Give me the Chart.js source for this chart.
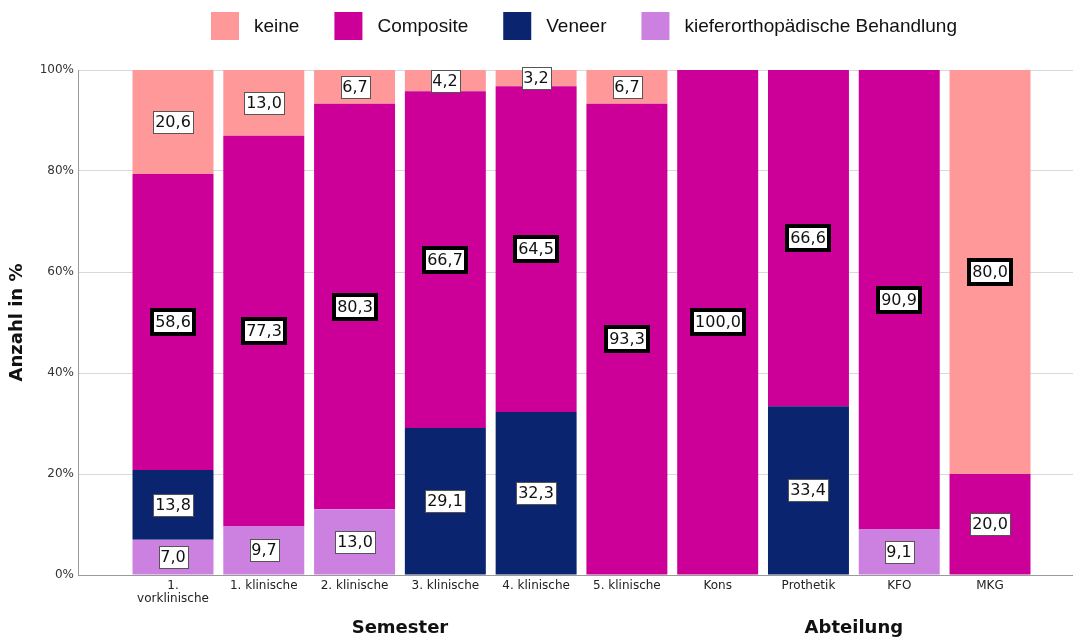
<!DOCTYPE html>
<html lang="de">
<head>
<meta charset="utf-8">
<title>Anzahl in %</title>
<script src="https://cdn.jsdelivr.net/npm/chart.js@4.4.1/dist/chart.umd.min.js"></script>
<style>
  html, body { margin: 0; padding: 0; background: #fff; }
  #wrap { width: 1073px; height: 644px; }
</style>
</head>
<body>
<div id="wrap"><canvas id="chart"></canvas></div>
<script>
// Kategorien der x-Achse
const categories = [['1.', 'vorklinische'], '1. klinische', '2. klinische', '3. klinische', '4. klinische',
    '5. klinische', 'Kons', 'Prothetik', 'KFO', 'MKG'];

// Anteile in %, von unten nach oben gestapelt
const kfoBehandlung = [7.0, 9.7, 13.0, 0, 0, 0, 0, 0, 9.1, 0];
const veneer = [13.8, 0, 0, 29.1, 32.3, 0, 0, 33.4, 0, 0];
const composite = [58.6, 77.3, 80.3, 66.7, 64.5, 93.3, 100.0, 66.6, 90.9, 20.0];
const keine = [20.6, 13.0, 6.7, 4.2, 3.2, 6.7, 0, 0, 0, 80.0];

const yTicks = [0, 20, 40, 60, 80, 100];

// Gruppentitel unter der x-Achse
const groups = [
    { title: 'Semester', from: 0, to: 5 },
    { title: 'Abteilung', from: 6, to: 9 }
];

const COLORS = {
    keine: '#ff9999',
    composite: '#cc0099',
    veneer: '#0b2470',
    kfo: '#cc80e0'
};

// Werte auf den Balken (größter Anteil je Balken mit dickem Rahmen)
const valueLabels = {
    id: 'valueLabels',
    afterDatasetsDraw(chart) {
        const ctx = chart.ctx;
        const datasets = chart.data.datasets;
        const maxima = categories.map((c, i) => Math.max(...datasets.map(d => d.data[i])));

        ctx.save();
        ctx.font = '16px "DejaVu Sans"';
        ctx.textAlign = 'center';
        ctx.textBaseline = 'middle';

        datasets.forEach((ds, di) => {
            const meta = chart.getDatasetMeta(di);
            meta.data.forEach((bar, i) => {
                const v = ds.data[i];
                if (!v) return;
                const p = bar.getProps(['x', 'y', 'base'], true);
                const text = v.toFixed(1).replace('.', ',');
                const cy = Math.round((p.y + p.base) / 2);
                const cx = Math.round(p.x);
                const tw = ctx.measureText(text).width;

                if (v === maxima[i]) {
                    const bw = Math.round(tw + 6), bh = 24;
                    ctx.fillStyle = '#fff';
                    ctx.fillRect(cx - bw / 2, cy - bh / 2, bw, bh);
                    ctx.lineWidth = 4;
                    ctx.strokeStyle = '#000';
                    ctx.strokeRect(cx - bw / 2, cy - bh / 2, bw, bh);
                } else {
                    const bw = Math.round(tw + 4), bh = 22;
                    const left = Math.round(cx - bw / 2) + 0.5, top = Math.round(cy - bh / 2) + 0.5;
                    ctx.fillStyle = '#fff';
                    ctx.fillRect(left, top, bw, bh);
                    ctx.lineWidth = 1;
                    ctx.strokeStyle = '#555';
                    ctx.strokeRect(left, top, bw, bh);
                }
                ctx.fillStyle = '#111';
                ctx.fillText(text, cx, cy + 1);
            });
        });
        ctx.restore();
    }
};

// Legende oben (Reihenfolge wie im Stapel von oben nach unten)
const topLegend = {
    id: 'topLegend',
    afterDraw(chart) {
        const ctx = chart.ctx;
        const items = chart.data.datasets.slice().reverse();
        const box = 28, gapText = 15, gapItem = 35;
        ctx.save();
        ctx.font = '19px "Liberation Sans"';
        ctx.textBaseline = 'middle';
        ctx.textAlign = 'left';
        const widths = items.map(d => box + gapText + ctx.measureText(d.label).width);
        const total = widths.reduce((a, b) => a + b, 0) + gapItem * (items.length - 1);
        const area = chart.chartArea;
        let x = Math.round((area.left + area.right) / 2 - total / 2 + 8);
        const top = 12;
        items.forEach((d, i) => {
            ctx.fillStyle = d.backgroundColor;
            ctx.fillRect(x, top, box, box);
            ctx.fillStyle = '#111';
            ctx.fillText(d.label, x + box + gapText, top + box / 2 + 1);
            x += widths[i] + gapItem;
        });
        ctx.restore();
    }
};

// Gruppentitel "Semester" / "Abteilung"
const groupTitles = {
    id: 'groupTitles',
    afterDraw(chart) {
        const ctx = chart.ctx;
        const xs = chart.scales.x;
        ctx.save();
        ctx.font = 'bold 18px "DejaVu Sans"';
        ctx.fillStyle = '#111';
        ctx.textAlign = 'center';
        ctx.textBaseline = 'middle';
        groups.forEach(g => {
            const x = (xs.getPixelForValue(g.from) + xs.getPixelForValue(g.to)) / 2;
            ctx.fillText(g.title, x, xs.bottom - 16);
        });
        ctx.restore();
    }
};

function makeDataset(label, data, color) {
    return {
        label: label,
        data: data,
        backgroundColor: color,
        borderWidth: 0,
        barPercentage: 0.892,
        categoryPercentage: 1.0
    };
}

document.addEventListener('DOMContentLoaded', function() {
    const ctx = document.getElementById('chart');

    new Chart(ctx, {
        type: 'bar',
        data: {
            labels: categories.map((c, i) => i),
            datasets: [
                makeDataset('kieferorthopädische Behandlung', kfoBehandlung, COLORS.kfo),
                makeDataset('Veneer', veneer, COLORS.veneer),
                makeDataset('Composite', composite, COLORS.composite),
                makeDataset('keine', keine, COLORS.keine)
            ]
        },
        options: {
            responsive: true,
            maintainAspectRatio: false,
            animation: false,
            layout: { padding: { top: 70, right: 0, bottom: 0, left: 0 } },
            plugins: {
                legend: { display: false },
                tooltip: { enabled: false }
            },
            scales: {
                x: {
                    type: 'linear',
                    stacked: true,
                    offset: false,
                    min: -1.0465,
                    max: 9.914,
                    grid: { display: false, drawTicks: false },
                    border: { display: true, color: '#9a9a9a' },
                    afterBuildTicks: s => { s.ticks = categories.map((c, i) => ({ value: i })); },
                    afterFit: s => { s.height = 69; },
                    ticks: {
                        autoSkip: false,
                        maxRotation: 0,
                        padding: 4,
                        color: '#222',
                        font: { family: '"DejaVu Sans"', size: 12, lineHeight: 1.1 },
                        callback: v => categories[v]
                    }
                },
                y: {
                    stacked: true,
                    min: 0,
                    max: 100,
                    grid: { color: '#d9d9d9', drawTicks: false },
                    border: { display: true, color: '#9a9a9a' },
                    afterBuildTicks: s => { s.ticks = yTicks.map(v => ({ value: v })); },
                    afterFit: s => { s.width = 78; },
                    ticks: {
                        padding: 4,
                        color: '#333',
                        font: { family: '"DejaVu Sans"', size: 12 },
                        callback: v => v + '%'
                    },
                    title: {
                        display: true,
                        text: 'Anzahl in %',
                        color: '#111',
                        font: { family: '"DejaVu Sans"', size: 18, weight: 'bold' },
                        padding: { top: 7, bottom: 0 }
                    }
                }
            }
        },
        plugins: [valueLabels, topLegend, groupTitles]
    });
});
</script>
</body>
</html>
